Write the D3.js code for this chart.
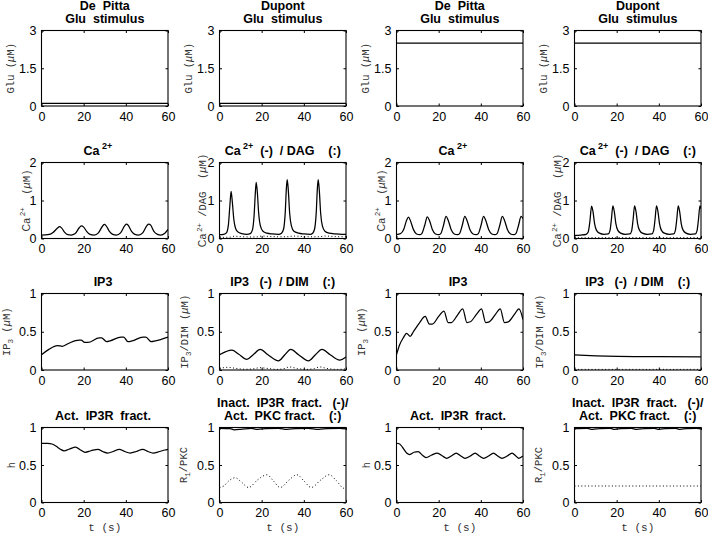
<!DOCTYPE html>
<html><head><meta charset="utf-8">
<script src="https://cdn.jsdelivr.net/npm/d3@7"></script>
<style>
body{margin:0;background:#fff;}
svg text{white-space:pre;}
</style></head><body>
<svg id="c" width="708" height="535"></svg>
<script>
// ---------------- data ----------------
const timeDomain = [0, 60];
const xTicks = [0, 20, 40, 60];
const yTicksGlu = [0, 1.5, 3];
const yTicksCa = [0, 1, 2];
const yTicksUnit = [0, 0.5, 1];

// Row 1: glutamate stimulus
const gluLowDP = [[0, 0.1], [60, 0.1]];
const gluLowDU = [[0, 0.1], [60, 0.1]];
const gluHighDP = [[0, 2.5], [60, 2.5]];
const gluHighDU = [[0, 2.5], [60, 2.5]];

// Row 2: Ca2+ (and DAG)
const caDPlow = [[0,0.09],[3,0.1],[5.5,0.16],[7.5,0.27],[8.5,0.31],[9.5,0.28],[11,0.16],[12.5,0.1],[14,0.09],[16,0.13],[18,0.29],[19,0.33],[20,0.3],[21.5,0.18],[23,0.11],[25,0.09],[27,0.15],[29,0.33],[29.8,0.37],[30.6,0.34],[32.2,0.19],[33.8,0.11],[35.5,0.09],[37.5,0.15],[39.5,0.34],[40.3,0.38],[41.1,0.35],[42.7,0.19],[44.3,0.11],[46,0.09],[48,0.15],[50,0.34],[50.9,0.38],[51.8,0.35],[53.3,0.19],[55,0.11],[56.5,0.09],[58.5,0.14],[60,0.24]];
const caDUlow = [[0,0.1],[2,0.11],[3.3,0.15],[4.2,0.35],[4.9,0.85],[5.5,1.24],[6.1,0.95],[6.8,0.5],[7.6,0.27],[8.8,0.17],[10.5,0.13],[13,0.11],[14.6,0.13],[15.6,0.22],[16.4,0.6],[17,1.2],[17.4,1.48],[17.9,1.25],[18.6,0.65],[19.4,0.33],[20.6,0.19],[22.5,0.14],[25,0.12],[28,0.11],[29.4,0.14],[30.4,0.25],[31.2,0.7],[31.7,1.3],[32.1,1.55],[32.6,1.3],[33.3,0.65],[34.1,0.33],[35.3,0.19],[37.5,0.14],[40,0.12],[43,0.11],[44.2,0.14],[45.1,0.25],[45.9,0.7],[46.4,1.3],[46.8,1.55],[47.3,1.3],[48,0.65],[48.8,0.33],[50,0.19],[52,0.14],[55,0.12],[58,0.11],[60,0.11]];
const dagDUlow = [[0,0.03],[5,0.035],[7,0.06],[10,0.05],[15,0.04],[18,0.045],[20,0.065],[25,0.05],[30,0.045],[33,0.05],[35,0.065],[40,0.05],[45,0.045],[48,0.05],[50,0.065],[55,0.05],[60,0.045]];
const caDPhigh = [[0,0.1],[2,0.13],[3.5,0.25],[4.8,0.48],[5.7,0.56],[6.6,0.47],[8,0.24],[9.5,0.12],[11,0.1],[12,0.13],[13.4,0.35],[14.6,0.57],[15.6,0.48],[17,0.24],[18.5,0.12],[20,0.1],[21,0.13],[22.3,0.35],[23.5,0.58],[24.5,0.48],[25.9,0.24],[27.4,0.12],[28.9,0.1],[29.9,0.13],[31.2,0.35],[32.4,0.58],[33.4,0.48],[34.8,0.24],[36.3,0.12],[37.8,0.1],[38.8,0.13],[40.1,0.35],[41.3,0.58],[42.3,0.48],[43.7,0.24],[45.2,0.12],[46.7,0.1],[47.7,0.13],[49,0.35],[50.2,0.58],[51.2,0.48],[52.6,0.24],[54.1,0.12],[55.6,0.1],[56.6,0.13],[57.9,0.35],[59.1,0.58],[60,0.52]];
const caDUhigh = [[0,0.08],[3,0.09],[5.5,0.11],[6.5,0.17],[7.3,0.45],[8.1,0.85],[8.8,0.7],[9.5,0.4],[10.4,0.22],[11.8,0.14],[14,0.11],[16,0.12],[16.8,0.2],[17.5,0.5],[18.2,0.86],[18.9,0.7],[19.6,0.4],[20.5,0.22],[21.9,0.14],[24,0.11],[26.3,0.12],[27.1,0.2],[27.8,0.5],[28.5,0.86],[29.2,0.7],[29.9,0.4],[30.8,0.22],[32.2,0.14],[34.5,0.11],[36.7,0.12],[37.5,0.2],[38.2,0.5],[38.9,0.86],[39.6,0.7],[40.3,0.4],[41.2,0.22],[42.6,0.14],[45,0.11],[47,0.12],[47.8,0.2],[48.5,0.5],[49.2,0.86],[49.9,0.7],[50.6,0.4],[51.5,0.22],[52.9,0.14],[55,0.11],[57.3,0.12],[58.1,0.2],[58.8,0.5],[59.5,0.86],[60,0.78]];
const dagDUhigh = [[0,0.02],[20,0.022],[40,0.022],[60,0.022]];

// Row 3: IP3 (and DIM)
const ip3DPlow = [[0,0.2],[3.5,0.27],[7.5,0.32],[9.9,0.31],[13,0.35],[17.8,0.39],[18.8,0.39],[20.5,0.36],[22,0.36],[27.4,0.42],[28.5,0.42],[30.9,0.37],[32.5,0.38],[37.7,0.43],[39,0.43],[41,0.37],[43,0.38],[48.1,0.43],[49.5,0.43],[52,0.37],[54,0.38],[60,0.43]];
const ip3DUlow = [[0,0.2],[3,0.24],[5.9,0.26],[9,0.21],[13,0.14],[16,0.2],[19.3,0.27],[23,0.2],[28,0.12],[31,0.2],[33.8,0.27],[37.5,0.2],[42.2,0.12],[45.5,0.2],[48.6,0.27],[52.5,0.2],[57,0.13],[60,0.17]];
const dimDUlow = [[0,0.02],[4,0.035],[8,0.02],[12,0.01],[16,0.015],[19,0.03],[23,0.02],[27,0.008],[31,0.02],[33,0.04],[37,0.02],[41,0.008],[45,0.02],[47.5,0.04],[51,0.02],[56,0.008],[60,0.015]];
const ip3DPhigh = [[0,0.2],[1.5,0.33],[3.2,0.42],[4.8,0.48],[6.5,0.44],[8,0.5],[11,0.62],[13.6,0.7],[15.6,0.6],[17,0.6],[20,0.7],[22.5,0.77],[24.5,0.62],[26,0.62],[29,0.72],[31.4,0.8],[33.4,0.62],[35,0.63],[38,0.73],[40.3,0.8],[42.3,0.62],[44,0.63],[47,0.73],[49.2,0.8],[51.2,0.62],[53,0.63],[56,0.73],[58.1,0.8],[60,0.66]];
const ip3DUhigh = [[0,0.197],[5,0.19],[15,0.18],[30,0.175],[60,0.172]];
const dimDUhigh = [[0,0.008],[60,0.008]];

// Row 4: IP3R fractions (and PKC)
const hDPlow = [[0,0.79],[3,0.79],[5,0.78],[7,0.75],[9,0.71],[10.7,0.69],[13,0.71],[16.2,0.74],[18.5,0.7],[20.7,0.67],[23.5,0.69],[26.8,0.71],[29,0.68],[31.4,0.66],[34,0.68],[36.9,0.71],[39.5,0.68],[42,0.66],[45,0.68],[48,0.71],[50.5,0.68],[52.9,0.66],[56,0.68],[58.5,0.7],[60,0.71]];
const rDUlow = [[0,0.99],[5,0.985],[7,0.97],[10,0.975],[15,0.99],[18,0.975],[22,0.985],[28,0.99],[32,0.975],[36,0.985],[42,0.99],[47,0.975],[51,0.985],[57,0.99],[60,0.98]];
const pkcDUlow = [[0,0.2],[2,0.22],[4.5,0.29],[7.4,0.33],[10.5,0.27],[13.8,0.2],[18,0.3],[22.5,0.37],[25.5,0.29],[28.8,0.2],[33,0.3],[36.7,0.37],[40,0.29],[43.5,0.2],[48,0.3],[52,0.37],[55.5,0.29],[59,0.19],[60,0.19]];
const hDPhigh = [[0,0.79],[1.5,0.78],[3,0.73],[4.8,0.66],[6.3,0.64],[8.3,0.67],[10.3,0.68],[12.3,0.63],[14,0.6],[16.5,0.63],[19.4,0.66],[21.8,0.62],[23.8,0.59],[26,0.62],[28.3,0.66],[30.5,0.62],[32.5,0.59],[35,0.62],[37.3,0.66],[39.3,0.62],[41.3,0.59],[43.7,0.62],[46,0.66],[48,0.62],[50,0.59],[52.5,0.62],[54.8,0.66],[56.6,0.62],[58,0.59],[60,0.62]];
const rDUhigh = [[0,0.985],[6,0.99],[8.5,0.975],[12,0.985],[17,0.99],[19,0.975],[22,0.985],[27,0.99],[29.5,0.975],[33,0.985],[38,0.99],[40,0.975],[43,0.985],[48,0.99],[50,0.975],[53,0.985],[58,0.99],[60,0.98]];
const pkcDUhigh = [[0,0.22],[60,0.22]];

// ---------------- layout & style ----------------
const colX = [41.5, 219.5, 396.5, 574.5];
const colW = [126.5, 126.5, 126.5, 126.5];
const rowY = [30.5, 162.5, 293.5, 427.5];
const rowH = [75.5, 76, 76.5, 75];
const SANS = "'Liberation Sans', Arial, Helvetica, sans-serif";
const MONO = "'Liberation Mono', 'DejaVu Sans Mono', monospace";

const svg = d3.select('#c');

function rich(textSel, segs, size) {
  let shift = 0;
  segs.forEach(s => {
    const ts = textSel.append('tspan').text(s.t);
    const target = s.sup ? -size * 0.42 : (s.sub ? size * 0.3 : 0);
    if (target - shift !== 0) ts.attr('dy', target - shift);
    shift = target;
    if (s.sup || s.sub) ts.attr('font-size', size * 0.72);
    if (s.dx) ts.attr('dx', s.dx);
    if (s.it) ts.attr('font-style', 'italic');
    if (s.ff) ts.attr('font-family', s.ff);
  });
}

const T = t => ({t});
const ylGlu = [T('Glu ('), {t:'μ', it:true}, T('M)')];
const ylCa = [{t:'Ca', ff:SANS}, {t:'2+', sup:true, dx:2, ff:SANS}, T('  ('), {t:'μ', it:true}, T('M)')];
const ylCaDag = [{t:'Ca', ff:SANS}, {t:'2+', sup:true, dx:2, ff:SANS}, T(' /DAG  ('), {t:'μ', it:true}, T('M)')];
const ylIp3 = [T('IP'), {t:'3', sub:true}, T(' ('), {t:'μ', it:true}, T('M)')];
const ylIp3Dim = [T('IP'), {t:'3', sub:true}, T('/DIM ('), {t:'μ', it:true}, T('M)')];
const ylH = [T('h')];
const ylR = [T('R'), {t:'1', sub:true}, T('/PKC')];

const tCa = [[T('Ca'), {t:'2+', sup:true, dx:2.5}, T('    ')]];
const tCaDag = [[T('Ca'), {t:'2+', sup:true, dx:2.5}, T('  (-)  / DAG    (:)')]];
const tIp3 = [[T('IP3 ')]];
const tIp3Dim = [[T('IP3   (-)  / DIM    (:)')]];
const tAct = [[T('Act.  IP3R  fract. ')]];
const tInact = [[T('Inact.  IP3R  fract.   (-)/')], [T('Act.  PKC fract.    (:)')]];

const panels = [
  {r:0,c:0,title:[[T('De  Pitta')],[T('Glu  stimulus')]], yl:ylGlu, ylx:-28, dom:3, ticks:yTicksGlu, s:[{d:gluLowDP}]},
  {r:0,c:1,title:[[T('Dupont')],[T('Glu  stimulus')]], yl:ylGlu, ylx:-28, dom:3, ticks:yTicksGlu, s:[{d:gluLowDU}]},
  {r:0,c:2,title:[[T('De  Pitta')],[T('Glu  stimulus')]], yl:ylGlu, ylx:-28, dom:3, ticks:yTicksGlu, s:[{d:gluHighDP}]},
  {r:0,c:3,title:[[T('Dupont')],[T('Glu  stimulus')]], yl:ylGlu, ylx:-28, dom:3, ticks:yTicksGlu, s:[{d:gluHighDU}]},
  {r:1,c:0,title:tCa, yl:ylCa, ylx:-12, dom:2, ticks:yTicksCa, s:[{d:caDPlow}]},
  {r:1,c:1,title:tCaDag, yl:ylCaDag, ylx:-13.5, dom:2, ticks:yTicksCa, s:[{d:caDUlow},{d:dagDUlow,dot:true}]},
  {r:1,c:2,title:tCa, yl:ylCa, ylx:-12, dom:2, ticks:yTicksCa, s:[{d:caDPhigh}]},
  {r:1,c:3,title:tCaDag, yl:ylCaDag, ylx:-13.5, dom:2, ticks:yTicksCa, s:[{d:caDUhigh},{d:dagDUhigh,dot:true}]},
  {r:2,c:0,title:tIp3, yl:ylIp3, ylx:-32, dom:1, ticks:yTicksUnit, s:[{d:ip3DPlow}]},
  {r:2,c:1,title:tIp3Dim, yl:ylIp3Dim, ylx:-32, dom:1, ticks:yTicksUnit, s:[{d:ip3DUlow},{d:dimDUlow,dot:true}]},
  {r:2,c:2,title:tIp3, yl:ylIp3, ylx:-32, dom:1, ticks:yTicksUnit, s:[{d:ip3DPhigh}]},
  {r:2,c:3,title:tIp3Dim, yl:ylIp3Dim, ylx:-32, dom:1, ticks:yTicksUnit, s:[{d:ip3DUhigh},{d:dimDUhigh,dot:true}]},
  {r:3,c:0,title:tAct, yl:ylH, ylx:-27, dom:1, ticks:yTicksUnit, s:[{d:hDPlow}]},
  {r:3,c:1,title:tInact, yl:ylR, ylx:-33, dom:1, ticks:yTicksUnit, s:[{d:rDUlow},{d:pkcDUlow,dot:true}]},
  {r:3,c:2,title:tAct, yl:ylH, ylx:-27, dom:1, ticks:yTicksUnit, s:[{d:hDPhigh}]},
  {r:3,c:3,title:tInact, yl:ylR, ylx:-33, dom:1, ticks:yTicksUnit, s:[{d:rDUhigh},{d:pkcDUhigh,dot:true}]},
];

panels.forEach((p, i) => {
  const x0 = colX[p.c], w = colW[p.c], y0 = rowY[p.r], h = rowH[p.r];
  const x = d3.scaleLinear().domain(timeDomain).range([x0, x0 + w]);
  const y = d3.scaleLinear().domain([0, p.dom]).range([y0 + h, y0]);
  const g = svg.append('g');

  const clipId = 'clip' + i;
  svg.append('clipPath').attr('id', clipId).append('rect')
    .attr('x', x0).attr('y', y0 - 1).attr('width', w).attr('height', h + 2);

  const line = d3.line().x(d => x(d[0])).y(d => y(d[1])).curve(d3.curveMonotoneX);
  p.s.forEach(s => {
    g.append('path').attr('d', line(s.d)).attr('clip-path', `url(#${clipId})`)
      .attr('fill', 'none').attr('stroke', '#000')
      .attr('stroke-width', s.dot ? 1 : 1.25)
      .attr('stroke-dasharray', s.dot ? '1,2.4' : null);
  });

  const tl = 2.5;
  const axB = g.append('g').attr('transform', `translate(0,${y0 + h})`)
    .call(d3.axisBottom(x).tickValues(xTicks).tickSizeInner(-tl).tickSizeOuter(0).tickPadding(6));
  const axT = g.append('g').attr('transform', `translate(0,${y0})`)
    .call(d3.axisTop(x).tickValues(xTicks).tickSizeInner(-tl).tickSizeOuter(0).tickFormat(''));
  const axL = g.append('g').attr('transform', `translate(${x0},0)`)
    .call(d3.axisLeft(y).tickValues(p.ticks).tickSizeInner(-tl).tickSizeOuter(0).tickPadding(5).tickFormat(d3.format('~g')));
  const axR = g.append('g').attr('transform', `translate(${x0 + w},0)`)
    .call(d3.axisRight(y).tickValues(p.ticks).tickSizeInner(-tl).tickSizeOuter(0).tickFormat(''));
  [axB, axT, axL, axR].forEach(a => {
    a.select('.domain').remove();
    a.selectAll('line').attr('stroke', '#000').attr('stroke-width', 1);
    a.selectAll('text').attr('font-family', SANS).attr('font-size', 12.5).attr('fill', '#000');
  });
  axB.selectAll('text').attr('dy', '0.68em');

  g.append('rect').attr('x', x0).attr('y', y0).attr('width', w).attr('height', h)
    .attr('fill', 'none').attr('stroke', '#000').attr('stroke-width', 1.1);

  const cx = x0 + w / 2;
  const nl = p.title.length;
  p.title.forEach((lineSegs, li) => {
    const t = g.append('text').attr('x', cx).attr('y', y0 - 8 - (nl - 1 - li) * 13)
      .attr('text-anchor', 'middle').attr('font-family', SANS).attr('font-weight', 'bold')
      .attr('font-size', 12.5).attr('fill', '#000');
    rich(t, lineSegs, 12.5);
  });

  const yl = g.append('text')
    .attr('transform', `translate(${x0 + p.ylx},${y0 + h / 2}) rotate(-90)`)
    .attr('text-anchor', 'middle').attr('font-family', MONO).attr('font-size', 10.5).attr('fill', '#333');
  rich(yl, p.yl, 10.5);

  if (p.r === 3) {
    g.append('text').attr('x', cx).attr('y', y0 + h + 28).attr('text-anchor', 'middle')
      .attr('font-family', MONO).attr('font-size', 11).attr('fill', '#333').text('t (s)');
  }
});
</script>
</body></html>
